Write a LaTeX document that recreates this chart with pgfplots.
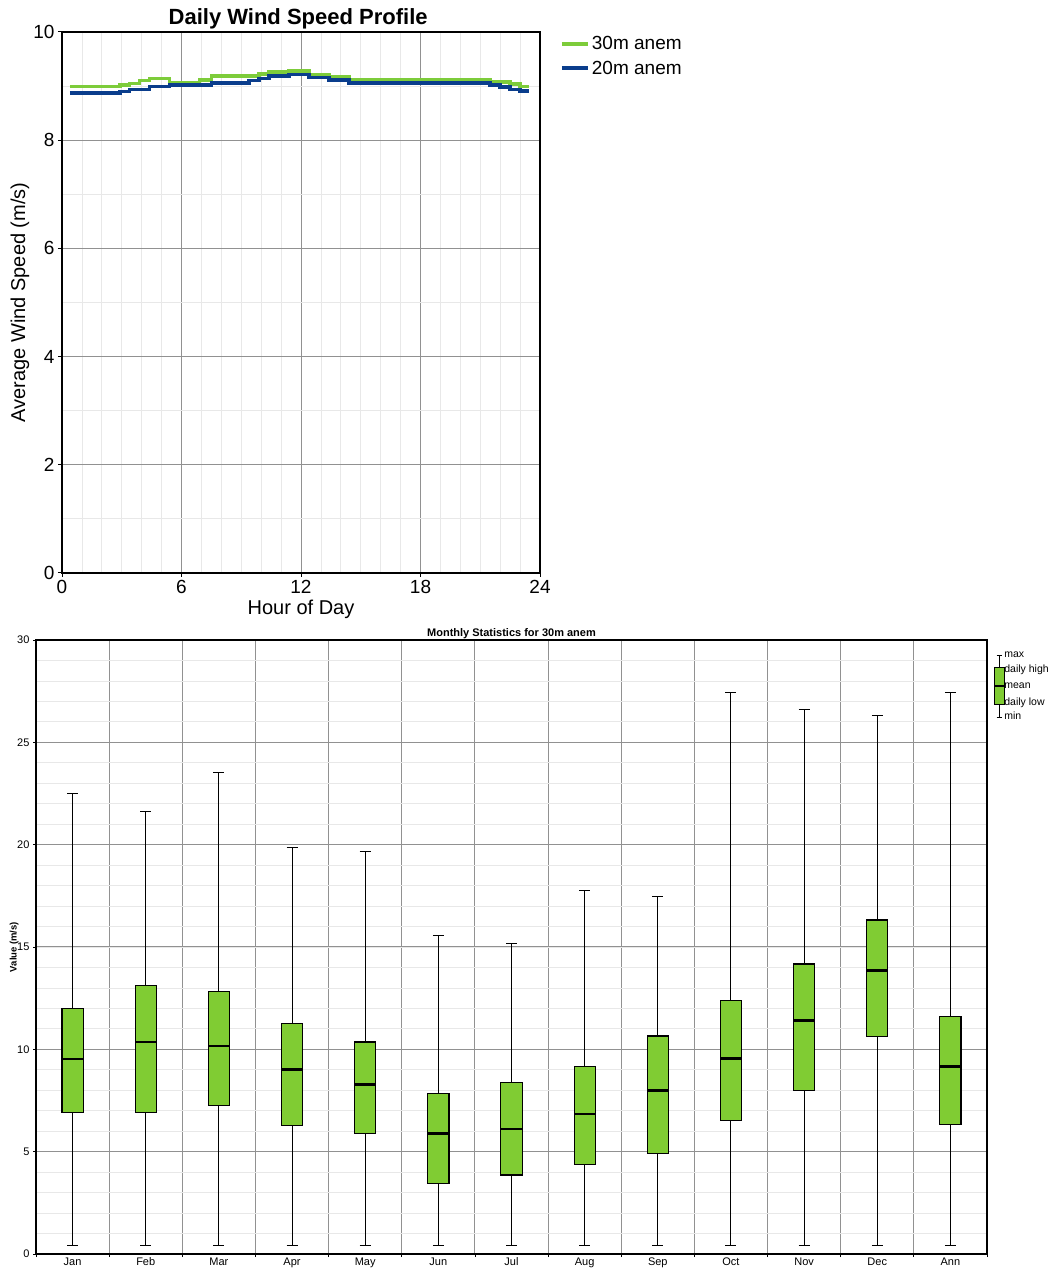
\documentclass[border=0pt]{standalone}
\usepackage{fontspec}
\setmainfont{Liberation Sans}
\usepackage{pgfplots}
\pgfplotsset{compat=1.18}
\usepgfplotslibrary{statistics}
\definecolor{gA}{RGB}{125,204,58}
\definecolor{bA}{RGB}{10,61,140}
\definecolor{boxg}{RGB}{128,204,51}
\definecolor{majg}{RGB}{145,145,145}
\definecolor{ming}{RGB}{232,232,232}
\begin{document}
\begin{tikzpicture}
\useasboundingbox (0,0) rectangle (1053bp,1268bp);
% ---------------- top chart ----------------
\begin{axis}[
 at={(62bp,695bp)}, anchor=south west, scale only axis, width=478bp, height=541bp,
 xmin=0,xmax=24,ymin=0,ymax=10,
 xtick={0,6,...,24}, ytick={0,2,...,10},
 minor x tick num=5, minor y tick num=1,
 xtick pos=bottom, ytick pos=left,
 grid=both, major grid style={majg, line width=1bp}, minor grid style={ming, line width=0.8bp},
 minor tick length=0pt, major tick length=4bp, tick align=outside, tick style={black, line width=1bp},
 axis line style={black, line width=1.6bp},
 tick label style={font=\fontsize{19bp}{22bp}\selectfont},
 /pgf/number format/assume math mode=true,
 xlabel={Hour of Day}, ylabel={Average Wind Speed (m/s)},
 label style={font=\fontsize{20bp}{24bp}\selectfont},
 x label style={at={(axis description cs:0.5,-0.0665)}, anchor=center},
 y label style={at={(axis description cs:-0.088,0.5)}, anchor=center},
 title={Daily Wind Speed Profile},
 title style={at={(axis description cs:0.494,1.013)}, anchor=center, font=\bfseries\fontsize{22bp}{24bp}\selectfont},
 legend style={at={(axis description cs:1.035,1.0)}, anchor=north west, draw=none, fill=none, font=\fontsize{19bp}{22bp}\selectfont, row sep=6bp},
 legend cell align=left,
 legend image code/.code={\draw[#1, line width=4bp] (0bp,0bp) -- (26bp,0bp);},
]
\addplot[const plot, gA, line width=3.5bp] coordinates {
(0.4,8.99)(2.9,9.02)(3.4,9.05)(3.9,9.10)(4.4,9.14)(5.4,9.06)(6.9,9.11)(7.5,9.19)(9.9,9.22)(10.4,9.26)(11.4,9.28)(12.4,9.21)(13.4,9.17)(14.4,9.12)(21.5,9.08)(22.5,9.04)(23.0,8.99)(23.45,8.99)};
\addlegendentry{30m anem}
\addplot[const plot, bA, line width=3.5bp] coordinates {
(0.4,8.87)(2.9,8.90)(3.4,8.94)(4.4,8.99)(5.4,9.02)(7.5,9.06)(9.4,9.10)(9.9,9.14)(10.4,9.19)(11.4,9.21)(12.4,9.16)(13.4,9.11)(14.4,9.06)(21.5,9.02)(22.0,8.98)(22.5,8.94)(23.0,8.91)(23.45,8.91)};
\addlegendentry{20m anem}
\end{axis}
% ---------------- bottom chart ----------------
\begin{axis}[
 at={(36bp,14bp)}, anchor=south west, scale only axis, width=951bp, height=614bp,
 xmin=-0.5, xmax=12.5, ymin=0, ymax=30,
 xtick={0,...,12}, xticklabels={Jan,Feb,Mar,Apr,May,Jun,Jul,Aug,Sep,Oct,Nov,Dec,Ann},
 minor xtick={-0.5,0.5,...,12.5},
 ytick={0,5,...,30}, minor ytick={0,...,30},
 xtick pos=bottom, ytick pos=left,
 xmajorgrids=false, xminorgrids=true, ymajorgrids=true, yminorgrids=true,
 major grid style={majg, line width=1bp}, minor grid style={ming, line width=0.8bp},
 minor x grid style={majg, line width=1bp},
 major x tick style={draw=none},
 major tick length=3bp, minor tick length=3bp, tick align=outside,
 minor y tick style={draw=none},
 tick style={black, line width=0.8bp},
 axis line style={black, line width=1.2bp},
 tick label style={font=\fontsize{11bp}{13bp}\selectfont},
 xticklabel style={yshift=2.5bp},
 /pgf/number format/assume math mode=true,
 ylabel={Value (m/s)},
 y label style={at={(axis description cs:-0.023,0.5)}, anchor=center, font=\bfseries\fontsize{9.5bp}{11bp}\selectfont},
 title={Monthly Statistics for 30m anem},
 title style={at={(axis description cs:0.5,1.0)}, anchor=center, font=\bfseries\fontsize{11bp}{13bp}\selectfont},
 boxplot/draw direction=y,
 boxplot/box extend=0.29, boxplot/whisker extend=0.15,
 boxplot/every box/.style={fill=boxg, draw=black, line width=1.1bp},
 boxplot/every median/.style={black, line width=2.2bp},
 boxplot/every whisker/.style={black, line width=1bp},
]
\addplot[boxplot prepared={draw position=0, lower whisker=0.4, lower quartile=6.93, median=9.51, upper quartile=12.01, upper whisker=22.5}] coordinates {};
\addplot[boxplot prepared={draw position=1, lower whisker=0.4, lower quartile=6.93, median=10.34, upper quartile=13.10, upper whisker=21.63}] coordinates {};
\addplot[boxplot prepared={draw position=2, lower whisker=0.4, lower quartile=7.24, median=10.18, upper quartile=12.84, upper whisker=23.53}] coordinates {};
\addplot[boxplot prepared={draw position=3, lower whisker=0.4, lower quartile=6.28, median=9.01, upper quartile=11.28, upper whisker=19.85}] coordinates {};
\addplot[boxplot prepared={draw position=4, lower whisker=0.4, lower quartile=5.87, median=8.28, upper quartile=10.36, upper whisker=19.65}] coordinates {};
\addplot[boxplot prepared={draw position=5, lower whisker=0.4, lower quartile=3.46, median=5.89, upper quartile=7.84, upper whisker=15.55}] coordinates {};
\addplot[boxplot prepared={draw position=6, lower whisker=0.4, lower quartile=3.86, median=6.09, upper quartile=8.36, upper whisker=15.16}] coordinates {};
\addplot[boxplot prepared={draw position=7, lower whisker=0.4, lower quartile=4.38, median=6.85, upper quartile=9.16, upper whisker=17.76}] coordinates {};
\addplot[boxplot prepared={draw position=8, lower whisker=0.4, lower quartile=4.89, median=7.99, upper quartile=10.65, upper whisker=17.47}] coordinates {};
\addplot[boxplot prepared={draw position=9, lower whisker=0.4, lower quartile=6.54, median=9.55, upper quartile=12.39, upper whisker=27.42}] coordinates {};
\addplot[boxplot prepared={draw position=10, lower whisker=0.4, lower quartile=8.00, median=11.41, upper quartile=14.17, upper whisker=26.6}] coordinates {};
\addplot[boxplot prepared={draw position=11, lower whisker=0.4, lower quartile=10.63, median=13.85, upper quartile=16.32, upper whisker=26.3}] coordinates {};
\addplot[boxplot prepared={draw position=12, lower whisker=0.4, lower quartile=6.33, median=9.16, upper quartile=11.62, upper whisker=27.42}] coordinates {};
\end{axis}
% ---------------- box legend ----------------
\begin{axis}[
 at={(994bp,548bp)}, anchor=south west, scale only axis, width=10bp, height=70bp,
 xmin=-0.5, xmax=0.5, ymin=-720, ymax=-650, hide axis, clip=false,
 boxplot/draw direction=y,
 boxplot/box extend=1, boxplot/whisker extend=0.5,
 boxplot/every box/.style={fill=boxg, draw=black, line width=0.8bp},
 boxplot/every median/.style={black, line width=2bp},
 boxplot/every whisker/.style={black, line width=0.8bp},
]
\addplot[boxplot prepared={draw position=0, lower whisker=-717, lower quartile=-704, median=-686, upper quartile=-667, upper whisker=-655}] coordinates {};
\node[anchor=west, inner sep=0pt, font=\fontsize{10.5bp}{12bp}\selectfont] at (axis cs:0.52,-655) {max};
\node[anchor=west, inner sep=0pt, font=\fontsize{10.5bp}{12bp}\selectfont] at (axis cs:0.52,-670) {daily high};
\node[anchor=west, inner sep=0pt, font=\fontsize{10.5bp}{12bp}\selectfont] at (axis cs:0.52,-686) {mean};
\node[anchor=west, inner sep=0pt, font=\fontsize{10.5bp}{12bp}\selectfont] at (axis cs:0.52,-703) {daily low};
\node[anchor=west, inner sep=0pt, font=\fontsize{10.5bp}{12bp}\selectfont] at (axis cs:0.52,-716) {min};
\end{axis}
\end{tikzpicture}
\end{document}
